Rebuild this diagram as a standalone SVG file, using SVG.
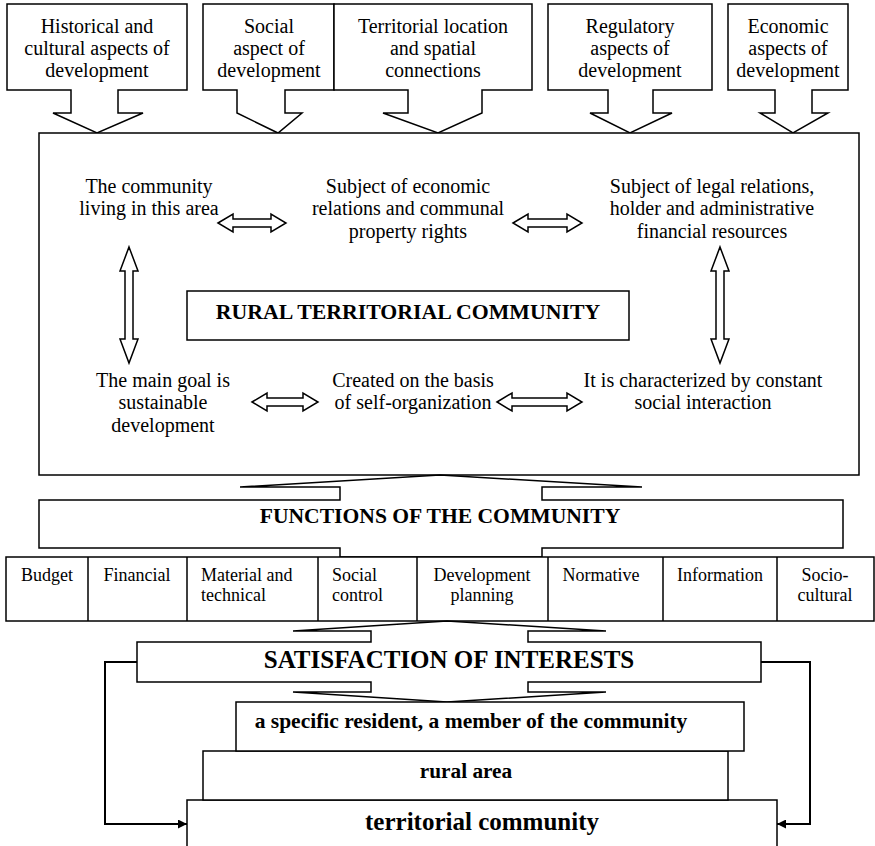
<svg xmlns="http://www.w3.org/2000/svg" width="875" height="846" viewBox="0 0 875 846">
<defs>
<style>
.sh{fill:#fff;stroke:#000;stroke-width:1.5;stroke-linejoin:miter}
.t{font-family:"Liberation Serif","Times New Roman",serif;font-size:20px;fill:#000;text-anchor:middle}
.c{font-family:"Liberation Serif","Times New Roman",serif;font-size:18px;fill:#000}
.m{text-anchor:middle}
.b{font-family:"Liberation Serif","Times New Roman",serif;font-weight:bold;fill:#000;text-anchor:middle}
.dar{fill:#fff;stroke:#000;stroke-width:1.5}
.ln{fill:none;stroke:#000;stroke-width:2}
</style>
<marker id="ah" viewBox="0 0 10 10" refX="10" refY="5" markerWidth="10" markerHeight="9" markerUnits="userSpaceOnUse" orient="auto">
<path d="M0,0 L10,5 L0,10 Z" fill="#000"/>
</marker>
</defs>
<rect width="875" height="846" fill="#fff"/>

<g id="aspect-historical">
<polygon class="sh" points="7,4 187,4 187,90 118,90 118,113 143,113 97,133 53,113 71,113 71,90 7,90"/>
<text class="t" x="97" y="33">Historical and</text>
<text class="t" x="97" y="55">cultural aspects of</text>
<text class="t" x="97" y="77">development</text>
</g>
<g id="aspect-social">
<polygon class="sh" points="203,4 334,4 334,90 285,90 285,113 302,113 278,133 237,113 237,90 203,90"/>
<text class="t" x="269" y="33">Social</text>
<text class="t" x="269" y="55">aspect of</text>
<text class="t" x="269" y="77">development</text>
</g>
<g id="aspect-territorial">
<polygon class="sh" points="334,4 532,4 532,90 482,90 482,113 438,133 383,113 408,113 408,90 334,90"/>
<text class="t" x="433" y="33">Territorial location</text>
<text class="t" x="433" y="55">and spatial</text>
<text class="t" x="433" y="77">connections</text>
</g>
<g id="aspect-regulatory">
<polygon class="sh" points="548,4 712,4 712,90 653,90 653,113 672,113 630,133 590,113 608,113 608,90 548,90"/>
<text class="t" x="630" y="33">Regulatory</text>
<text class="t" x="630" y="55">aspects of</text>
<text class="t" x="630" y="77">development</text>
</g>
<g id="aspect-economic">
<polygon class="sh" points="728,4 848,4 848,90 812,90 812,113 828,113 793,133 760,113 775,113 775,90 728,90"/>
<text class="t" x="788" y="33">Economic</text>
<text class="t" x="788" y="55">aspects of</text>
<text class="t" x="788" y="77">development</text>
</g>

<g id="community-frame">
<rect class="sh" x="39" y="133" width="820" height="342"/>
</g>
<g id="living">
<text class="t" x="149" y="192.5">The community</text>
<text class="t" x="149" y="215">living in this area</text>
</g>
<g id="economic-subject">
<text class="t" x="408" y="192.5">Subject of economic</text>
<text class="t" x="408" y="215">relations and communal</text>
<text class="t" x="408" y="237.5">property rights</text>
</g>
<g id="legal-subject">
<text class="t" x="712" y="192.5">Subject of legal relations,</text>
<text class="t" x="712" y="215">holder and administrative</text>
<text class="t" x="712" y="237.5">financial resources</text>
</g>
<g id="rtc">
<rect x="187" y="291" width="442" height="49" fill="#fff" stroke="#000" stroke-width="1.5"/>
<text class="b" x="408" y="319" font-size="21.8">RURAL TERRITORIAL COMMUNITY</text>
</g>
<g id="goal">
<text class="t" x="163" y="386.5">The main goal is</text>
<text class="t" x="163" y="409">sustainable</text>
<text class="t" x="163" y="431.5">development</text>
</g>
<g id="self-org">
<text class="t" x="413" y="386.5">Created on the basis</text>
<text class="t" x="413" y="409">of self-organization</text>
</g>
<g id="interaction">
<text class="t" x="703" y="386.5">It is characterized by constant</text>
<text class="t" x="703" y="409">social interaction</text>
</g>

<g id="functions">
<polygon class="sh" points="39,500 340,500 340,487 240,487 440,475 642,487 542,487 542,500 843,500 843,548 542,548 542,557 340,557 340,548 39,548"/>
<text class="b" x="440" y="523" font-size="21.6">FUNCTIONS OF THE COMMUNITY</text>
</g>
<g id="function-cells">
<rect class="sh" x="6" y="557" width="868" height="64"/>
<path d="M88,557V621M187,557V621M318,557V621M417,557V621M548,557V621M663,557V621M777,557V621" stroke="#000" stroke-width="1.5" fill="none"/>
<text class="c m" x="47" y="581">Budget</text>
<text class="c m" x="137" y="581">Financial</text>
<text class="c" x="201" y="581">Material and</text>
<text class="c" x="201" y="601">technical</text>
<text class="c" x="332" y="581">Social</text>
<text class="c" x="332" y="601">control</text>
<text class="c m" x="482" y="581">Development</text>
<text class="c m" x="482" y="601">planning</text>
<text class="c m" x="601" y="581">Normative</text>
<text class="c m" x="720" y="581">Information</text>
<text class="c m" x="825" y="581">Socio-</text>
<text class="c m" x="825" y="601">cultural</text>
</g>

<g id="satisfaction">
<polygon class="sh" points="137,642 371,642 371,631 293,631 447,621 606,631 528,631 528,642 761,642 761,682 528,682 528,692 606,692 447,702 293,692 371,692 371,682 137,682"/>
<text class="b" x="449" y="668" font-size="25">SATISFACTION OF INTERESTS</text>
</g>
<g id="territorial-community">
<path class="sh" d="M187,850 V800 H777 V850"/>
<text class="b" x="482" y="830" font-size="25">territorial community</text>
</g>
<g id="rural-area">
<rect class="sh" x="203" y="751" width="525" height="49"/>
<text class="b" x="466" y="778" font-size="21.3">rural area</text>
</g>
<g id="resident">
<rect class="sh" x="236" y="702" width="508" height="49"/>
<text class="b" x="471" y="728" font-size="21.5">a specific resident, a member of the community</text>
</g>

<g id="connectors">
<polygon class="dar" points="218,223 233,214 233,219 271,219 271,214 286,223 271,232 271,227 233,227 233,232"/>
<polygon class="dar" points="513,223 528,214 528,219 567,219 567,214 582,223 567,232 567,227 528,227 528,232"/>
<polygon class="dar" points="252,402 267,393 267,398 303,398 303,393 318,402 303,411 303,406 267,406 267,411"/>
<polygon class="dar" points="497,402 512,393 512,398 567,398 567,393 582,402 567,411 567,406 512,406 512,411"/>
<polygon class="dar" points="129,247 138,271 133,271 133,339 138,339 129,363 120,339 125,339 125,271 120,271"/>
<polygon class="dar" points="720,247 729,271 724,271 724,339 729,339 720,363 711,339 716,339 716,271 711,271"/>
<polyline class="ln" points="137,662 105,662 105,824 187,824" marker-end="url(#ah)"/>
<polyline class="ln" points="761,662 810,662 810,824 777,824" marker-end="url(#ah)"/>
</g>
</svg>
